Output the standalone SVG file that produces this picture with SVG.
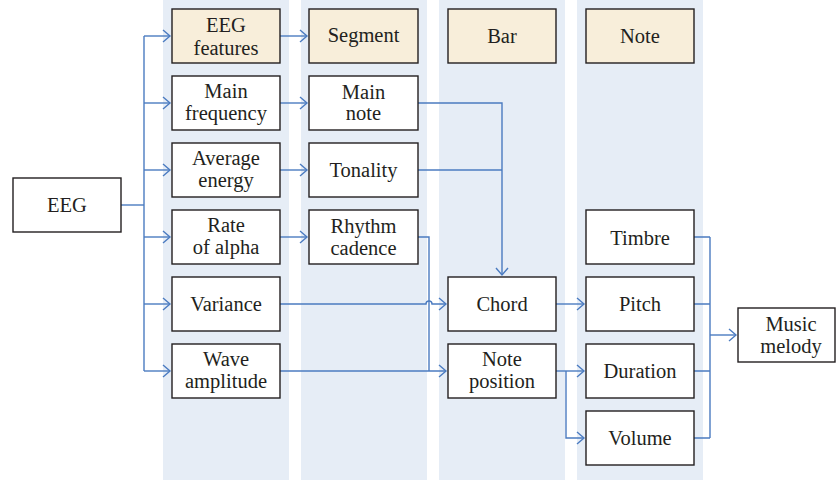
<svg xmlns="http://www.w3.org/2000/svg" width="836" height="480" viewBox="0 0 836 480">
<style>
.col{fill:#E6EDF6}
.box{fill:#FFFFFF;stroke:#231F20;stroke-width:1.4}
.hdr{fill:#F8EEDA;stroke:#231F20;stroke-width:1.4}
.t{font-family:'Liberation Serif','Times New Roman',serif;font-size:20.5px;fill:#231F20;text-anchor:middle}
.ln{fill:none;stroke:#4B7BC0;stroke-width:1.4}
.arr{marker-end:url(#ah)}
</style>
<defs>
<marker id="ah" markerUnits="userSpaceOnUse" markerWidth="12" markerHeight="16" refX="0" refY="0" viewBox="-9 -8 10 16" orient="auto" overflow="visible">
<path d="M-7,-6 L0,0 L-7,6" fill="none" stroke="#4B7BC0" stroke-width="1.4"/>
</marker>
</defs>
<rect width="836" height="480" fill="#FFFFFF"/>
<g id="columns">
<rect class="col" x="163" y="0" width="126" height="480"/>
<rect class="col" x="301" y="0" width="126" height="480"/>
<rect class="col" x="439" y="0" width="126" height="480"/>
<rect class="col" x="577" y="0" width="126" height="480"/>
</g>
<g id="connectors">
<path class="ln" d="M121,205 H144"/>
<path class="ln" d="M144,36 V371"/>
<path class="ln arr" d="M144,36 H170"/>
<path class="ln arr" d="M144,103 H170"/>
<path class="ln arr" d="M144,170 H170"/>
<path class="ln arr" d="M144,237 H170"/>
<path class="ln arr" d="M144,304 H170"/>
<path class="ln arr" d="M144,371 H170"/>
<path class="ln arr" d="M280,36 H307"/>
<path class="ln arr" d="M280,103 H307"/>
<path class="ln arr" d="M280,170 H307"/>
<path class="ln arr" d="M280,237 H307"/>
<path class="ln arr" d="M418,103 H502 V275"/>
<path class="ln" d="M418,170 H502"/>
<path class="ln" d="M418,237 H429 V371"/>
<path class="ln arr" d="M280,304 H426 a3,3 0 0 1 6,0 H446"/>
<path class="ln arr" d="M280,371 H446"/>
<path class="ln arr" d="M556,304 H584"/>
<path class="ln arr" d="M556,371 H584"/>
<path class="ln arr" d="M566,371 V438 H584"/>
<path class="ln" d="M694,237 H710 M694,304 H710 M694,371 H710 M694,438 H710 M710,237 V438"/>
<path class="ln arr" d="M710,335 H736" stroke-width="2"/>
</g>
<g id="nodes" font-family="'Liberation Serif', 'Times New Roman', serif" font-size="20.5" fill="#231F20" text-anchor="middle">
<g id="n-eeg"><rect class="box" x="13" y="178" width="108" height="54"/><text class="t" x="67" y="212">EEG</text></g>
<g id="n-eeg-features"><rect class="hdr" x="172" y="9" width="108" height="54"/><text class="t" x="226" y="32">EEG</text><text class="t" x="226" y="55">features</text></g>
<g id="n-main-frequency"><rect class="box" x="172" y="76" width="108" height="54"/><text class="t" x="226" y="98">Main</text><text class="t" x="226" y="120">frequency</text></g>
<g id="n-average-energy"><rect class="box" x="172" y="143" width="108" height="54"/><text class="t" x="226" y="165">Average</text><text class="t" x="226" y="187">energy</text></g>
<g id="n-rate-alpha"><rect class="box" x="172" y="210" width="108" height="54"/><text class="t" x="226" y="232">Rate</text><text class="t" x="226" y="254">of alpha</text></g>
<g id="n-variance"><rect class="box" x="172" y="277" width="108" height="54"/><text class="t" x="226" y="311">Variance</text></g>
<g id="n-wave-amplitude"><rect class="box" x="172" y="344" width="108" height="54"/><text class="t" x="226" y="366">Wave</text><text class="t" x="226" y="388">amplitude</text></g>
<g id="n-segment"><rect class="hdr" x="309" y="9" width="109" height="54"/><text class="t" x="363.5" y="42">Segment</text></g>
<g id="n-main-note"><rect class="box" x="309" y="76" width="109" height="54"/><text class="t" x="363.5" y="99">Main</text><text class="t" x="363.5" y="120">note</text></g>
<g id="n-tonality"><rect class="box" x="309" y="143" width="109" height="54"/><text class="t" x="363.5" y="177">Tonality</text></g>
<g id="n-rhythm-cadence"><rect class="box" x="309" y="210" width="109" height="54"/><text class="t" x="363.5" y="233">Rhythm</text><text class="t" x="363.5" y="255">cadence</text></g>
<g id="n-bar"><rect class="hdr" x="448" y="9" width="108" height="54"/><text class="t" x="502" y="43">Bar</text></g>
<g id="n-chord"><rect class="box" x="448" y="277" width="108" height="54"/><text class="t" x="502" y="311">Chord</text></g>
<g id="n-note-position"><rect class="box" x="448" y="344" width="108" height="54"/><text class="t" x="502" y="366">Note</text><text class="t" x="502" y="388">position</text></g>
<g id="n-note"><rect class="hdr" x="586" y="9" width="108" height="54"/><text class="t" x="640" y="43">Note</text></g>
<g id="n-timbre"><rect class="box" x="586" y="210" width="108" height="54"/><text class="t" x="640" y="245">Timbre</text></g>
<g id="n-pitch"><rect class="box" x="586" y="277" width="108" height="54"/><text class="t" x="640" y="311">Pitch</text></g>
<g id="n-duration"><rect class="box" x="586" y="344" width="108" height="54"/><text class="t" x="640" y="378">Duration</text></g>
<g id="n-volume"><rect class="box" x="586" y="411" width="108" height="54"/><text class="t" x="640" y="445">Volume</text></g>
<g id="n-music-melody"><rect class="box" x="738" y="308" width="97" height="54"/><text class="t" x="791" y="331">Music</text><text class="t" x="791" y="353">melody</text></g>
</g>
</svg>
